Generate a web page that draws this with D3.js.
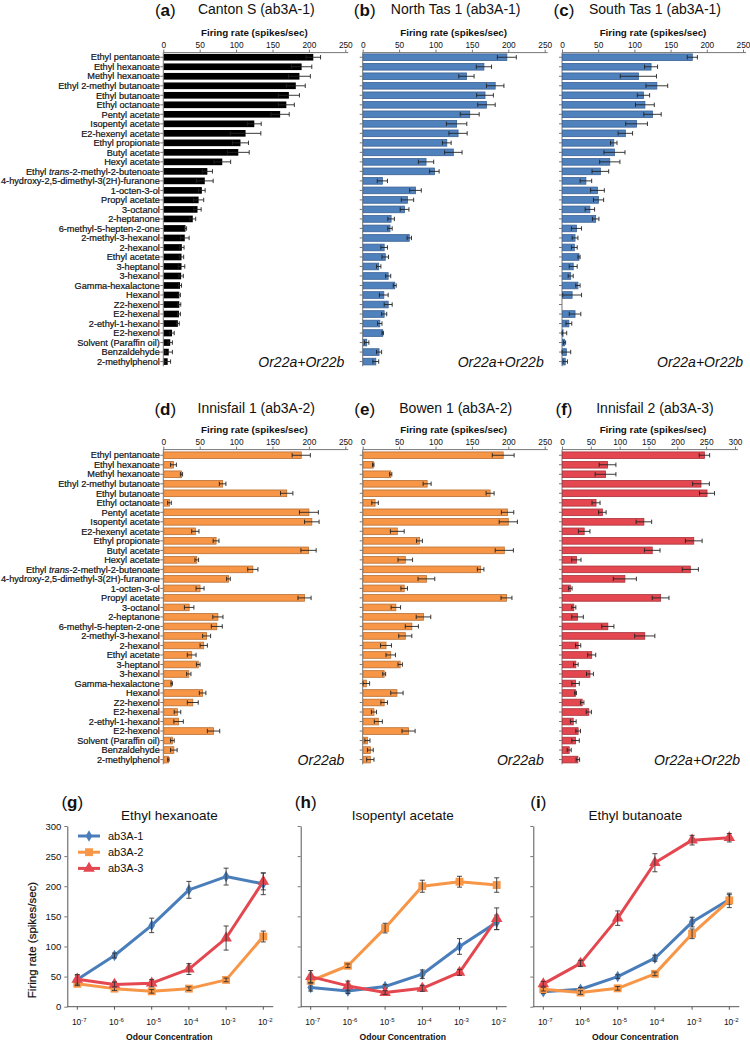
<!DOCTYPE html>
<meta charset="utf-8">
<head>
    <script src="https://cdn.jsdelivr.net/npm/d3@7"></script>
    <style>
        body { margin: 0; background: #fff; }
        text { font-family: "Liberation Sans", Arial, sans-serif; fill: #111; }
        .tick line { stroke: #777; }
        .cat { stroke: #111; stroke-width: 0.2px; }
    </style>
</head>
<body>
<script type="text/javascript">

    var width = 750;
    var height = 1044;

    // odours, in the order used on every bar panel
    var odours = ["Ethyl pentanoate", "Ethyl hexanoate", "Methyl hexanoate", "Ethyl 2-methyl butanoate",
        "Ethyl butanoate", "Ethyl octanoate", "Pentyl acetate", "Isopentyl acetate", "E2-hexenyl acetate",
        "Ethyl propionate", "Butyl acetate", "Hexyl acetate", "Ethyl trans-2-methyl-2-butenoate",
        "4-hydroxy-2,5-dimethyl-3(2H)-furanone", "1-octen-3-ol", "Propyl acetate", "3-octanol", "2-heptanone",
        "6-methyl-5-hepten-2-one", "2-methyl-3-hexanol", "2-hexanol", "Ethyl acetate", "3-heptanol", "3-hexanol",
        "Gamma-hexalactone", "Hexanol", "Z2-hexenol", "E2-hexenal", "2-ethyl-1-hexanol", "E2-hexenol",
        "Solvent (Paraffin oil)", "Benzaldehyde", "2-methylphenol"];

    // firing rates (spikes/sec) and error bars
    var cantonS = [206, 190, 187, 182, 172.5, 169, 160.5, 125, 113, 106, 103, 81, 60.5, 57, 53, 48.5, 47, 40.5, 30.5, 29.5, 25.5, 25, 25, 24.5, 23, 22, 22, 21.5, 20, 12, 9.5, 7.5, 6];
    var cantonSErr = [10, 14, 15, 13, 14.5, 11, 12.5, 9.5, 21, 11, 15, 11.5, 7, 11.5, 4.5, 7, 5, 4, 1.5, 6, 3, 3, 4.5, 3, 2, 1.5, 2, 2, 2, 3, 3, 5, 4];

    var northTas = [198, 166.5, 142.5, 182, 168, 170, 147, 129, 131, 115.5, 124.5, 87, 98.5, 27, 72.5, 61.5, 57.5, 39, 37.5, 64, 29.5, 31, 22, 35, 44, 29, 35, 29.5, 23.5, 27.5, 5.5, 22.5, 18];
    var northTasErr = [13, 10.5, 10.5, 12, 11.5, 12, 13, 14, 12.5, 6, 12, 10.5, 6.5, 7, 8, 8.5, 6, 4.5, 3, 3, 4.5, 4.5, 3, 3.5, 2, 6, 5.5, 3.5, 3, 1, 3, 3.5, 4];

    var southTas = [180, 123, 105.5, 131, 112.5, 114.5, 125, 103, 87.5, 71.5, 72.5, 66, 53, 33, 49, 50.5, 38.5, 46.5, 20, 18, 17, 23.5, 15.5, 12, 22, 14, null, 18, 9.5, 1.5, 3.5, 6, 4.5];
    var southTasErr = [7, 9, 25, 15, 8.5, 13, 12, 15, 10, 4.5, 14.5, 14, 11.5, 8, 9.5, 7, 6.5, 4.5, 7, 4, 4, 1.5, 5.5, 3.5, 3, 13, 0, 8, 4, 5, 1.5, 6, 3];

    var innisfail1 = [189.5, 14, 25, 81.5, 169.5, 8.5, 200, 204, 44, 72.5, 199.5, 46, 123, 89.5, 50.5, 194, 35.5, 75, 73.5, 59.5, 55.5, 39, 48, 35, 11.5, 54, 40.5, 19.5, 21, 69, 12.5, 14.5, 7];
    var innisfail1Err = [12.5, 4, 1.5, 4.5, 8.5, 2.5, 13, 10, 5, 4, 10.5, 2.5, 7, 2.5, 5.5, 9, 6.5, 7, 7.5, 5.5, 5, 6, 2.5, 3, 1, 4.5, 7.5, 4.5, 6.5, 8.5, 2.5, 4.5, 1];

    var bowen1 = [193, 14.5, 38.5, 88.5, 175, 17, 199, 200, 47.5, 78, 194.5, 58.5, 162, 87.5, 57, 197.5, 45.5, 83.5, 67.5, 58.5, 32, 38.5, 51.5, 29.5, 5, 47, 29.5, 15.5, 21.5, 63, 6.5, 10.5, 10.5];
    var bowen1Err = [15, 1, 1.5, 5.5, 5.5, 4.5, 8.5, 12.5, 9.5, 4, 12.5, 10, 4.5, 11.5, 4.5, 7.5, 6.5, 10, 9, 9, 7.5, 6.5, 3, 2, 4.5, 8.5, 4.5, 3.5, 5.5, 9, 3.5, 4, 5];

    var innisfail2 = [247, 79, 75.5, 241, 251.5, 59, 70, 142, 38.5, 228.5, 156.5, 25, 222.5, 109, 14.5, 171, 20.5, 27, 79.5, 143.5, 28, 51.5, 24, 48.5, 23.5, 23.5, 35, 46.5, 19.5, 28, 23.5, 12.5, 27.5];
    var innisfail2Err = [9, 14.5, 18, 14.5, 13, 7, 6.5, 13.5, 10, 14.5, 13.5, 8, 14, 20, 3, 14.5, 3.5, 10, 10.5, 17.5, 4.5, 7, 4, 6, 6.5, 1.5, 3, 4.5, 5, 4, 6.5, 3.5, 3];

    // dose response: exponents of the odour concentration
    var concExp = ["-7", "-6", "-5", "-4", "-3", "-2"];
    var lineNames = ["ab3A-1", "ab3A-2", "ab3A-3"];

    var ehA1 = [45, 85, 135, 194, 216, 204], ehA1Err = [7, 4, 12, 14, 14, 18];
    var ehA2 = [38, 30, 25.5, 30, 44.5, 116.5], ehA2Err = [3, 3, 3, 3, 3, 9];
    var ehA3 = [45.5, 37, 39, 62.5, 114, 208], ehA3Err = [8, 4, 6, 9, 20, 14];

    var iaA1 = [32, 26, 33.5, 54, 100, 140], iaA1Err = [6, 4, 3, 7, 13, 12];
    var iaA2 = [43, 68, 130.5, 200, 207.5, 202], iaA2Err = [4, 3, 8, 10, 9, 12];
    var iaA3 = [50, 34.5, 23.5, 30.5, 57, 146], iaA3Err = [10, 8, 3, 5, 5, 18];

    var ebA1 = [25, 29, 50, 80.5, 140.5, 178], ebA1Err = [3, 3, 3, 5, 8, 8];
    var ebA2 = [29, 23.5, 30.5, 54.5, 121, 176.5], ebA2Err = [3, 3, 3, 3, 8, 12];
    var ebA3 = [38, 72, 147, 239, 276.5, 280.5], ebA3Err = [4, 5, 12, 15, 8, 7];

    var svg = d3.select("body")
        .append("svg")
        .attr("width", width)
        .attr("height", height);

    var rows = [
        {titleY: 14, labelY: 36, tickY: 47.5, axisY: 52.6, top: 52.5},
        {titleY: 413, labelY: 433, tickY: 447.5, axisY: 449.6, top: 450.5}
    ];

    var BLUE = {fill: "#4f81bd", stroke: "#3a6194"};
    var ORANGE = {fill: "#f79646", stroke: "#b86e32"};
    var RED = {fill: "#e4474f", stroke: "#a8323a"};
    var BLACK = {fill: "#000", stroke: "none"};

    var barPanels = [
        {letter: "a", title: "Canton S (ab3A-1)", vals: cantonS, errs: cantonSErr, x0: 163.3, w: 182, max: 250, row: 0, col: BLACK, gene: "Or22a+Or22b", labels: true},
        {letter: "b", title: "North Tas 1 (ab3A-1)", vals: northTas, errs: northTasErr, x0: 362.7, w: 182, max: 250, row: 0, col: BLUE, gene: "Or22a+Or22b"},
        {letter: "c", title: "South Tas 1 (ab3A-1)", vals: southTas, errs: southTasErr, x0: 562, w: 181, max: 250, row: 0, col: BLUE, gene: "Or22a+Or22b"},
        {letter: "d", title: "Innisfail 1 (ab3A-2)", vals: innisfail1, errs: innisfail1Err, x0: 163.3, w: 182, max: 250, row: 1, col: ORANGE, gene: "Or22ab", labels: true},
        {letter: "e", title: "Bowen 1 (ab3A-2)", vals: bowen1, errs: bowen1Err, x0: 362.7, w: 182, max: 250, row: 1, col: ORANGE, gene: "Or22ab"},
        {letter: "f", title: "Innisfail 2 (ab3A-3)", vals: innisfail2, errs: innisfail2Err, x0: 562, w: 173, max: 300, row: 1, col: RED, gene: "Or22a+Or22b"}
    ];

    function panelLetter(g, x, y, letter) {
        var t = g.append("text")
            .attr("x", x).attr("y", y)
            .attr("text-anchor", "middle")
            .attr("font-size", "17px");
        t.append("tspan").text("(");
        t.append("tspan").attr("font-weight", "bold").text(letter);
        t.append("tspan").text(")");
    }

    barPanels.forEach(function (p) {
        var r = rows[p.row];
        var g = svg.append("g");
        var x = d3.scaleLinear().domain([0, p.max]).range([p.x0, p.x0 + p.w]);
        var y = d3.scaleBand()
            .domain(odours)
            .range([r.top, r.top + odours.length * 9.51])
            .paddingInner(0.3)
            .paddingOuter(0.15);
        var mid = p.x0 + 91;

        panelLetter(g, p.x0 + 2, r.titleY + 2, p.letter);
        g.append("text")
            .attr("x", mid + 2).attr("y", r.titleY)
            .attr("text-anchor", "middle")
            .attr("font-size", "14px")
            .text(p.title);
        g.append("text")
            .attr("x", mid).attr("y", r.labelY)
            .attr("text-anchor", "middle")
            .attr("font-size", "9.8px")
            .attr("font-weight", "bold")
            .text("Firing rate (spikes/sec)");

        // top axis
        var ax = g.append("g")
            .attr("transform", "translate(0," + r.axisY + ")")
            .call(d3.axisTop(x).tickValues(d3.range(0, p.max + 1, 50)).tickSize(3).tickSizeOuter(0).tickPadding(2));
        ax.select(".domain").remove();
        ax.selectAll("text").attr("font-size", "8.3px").attr("fill", "#111");
        g.append("line")
            .attr("x1", p.x0).attr("x2", p.x0 + p.w + 3)
            .attr("y1", r.axisY).attr("y2", r.axisY)
            .attr("stroke", "#777").attr("stroke-width", 1);
        // left axis with small ticks between rows
        g.append("line")
            .attr("x1", p.x0).attr("x2", p.x0)
            .attr("y1", r.axisY).attr("y2", r.top + odours.length * 9.51)
            .attr("stroke", "#777").attr("stroke-width", 1);
        g.selectAll(".ytick")
            .data(odours)
            .enter()
            .append("line")
            .attr("x1", p.x0 - 3).attr("x2", p.x0)
            .attr("y1", function (d) { return y(d) + y.bandwidth() / 2; })
            .attr("y2", function (d) { return y(d) + y.bandwidth() / 2; })
            .attr("stroke", "#777");

        var data = odours.map(function (o, i) {
            return {name: o, v: p.vals[i], e: p.errs[i]};
        }).filter(function (d) { return d.v !== null; });

        g.selectAll(".bar")
            .data(data)
            .enter()
            .append("rect")
            .attr("x", p.x0 + 0.5)
            .attr("y", function (d) { return y(d.name); })
            .attr("width", function (d) { return Math.max(0, x(d.v) - p.x0 - 0.5); })
            .attr("height", y.bandwidth())
            .attr("fill", p.col.fill)
            .attr("stroke", p.col.stroke)
            .attr("stroke-width", 0.8);

        // error bars
        var eb = g.selectAll(".err")
            .data(data)
            .enter()
            .append("g")
            .attr("stroke", "#222")
            .attr("stroke-width", 0.9);
        eb.append("line")
            .attr("x1", function (d) { return x(Math.max(0, d.v - d.e)); })
            .attr("x2", function (d) { return x(d.v + d.e); })
            .attr("y1", function (d) { return y(d.name) + y.bandwidth() / 2; })
            .attr("y2", function (d) { return y(d.name) + y.bandwidth() / 2; });
        [-1, 1].forEach(function (s) {
            eb.append("line")
                .attr("x1", function (d) { return x(Math.max(0, d.v + s * d.e)); })
                .attr("x2", function (d) { return x(Math.max(0, d.v + s * d.e)); })
                .attr("y1", function (d) { return y(d.name) + y.bandwidth() / 2 - 2.2; })
                .attr("y2", function (d) { return y(d.name) + y.bandwidth() / 2 + 2.2; });
        });

        if (p.labels) {
            var lab = g.selectAll(".lab")
                .data(odours)
                .enter()
                .append("text")
                .attr("class", "cat")
                .attr("x", p.x0 - 3.5)
                .attr("y", function (d) { return y(d) + y.bandwidth() / 2; })
                .attr("dy", "0.35em")
                .attr("text-anchor", "end")
                .attr("font-size", "9.2px");
            lab.each(function (d) {
                var t = d3.select(this);
                if (d.indexOf("trans") >= 0) {
                    var parts = d.split("trans");
                    t.append("tspan").text(parts[0]);
                    t.append("tspan").attr("font-style", "italic").text("trans");
                    t.append("tspan").text(parts[1]);
                } else {
                    t.text(d);
                }
            });
        }

        var last = odours[odours.length - 1];
        g.append("text")
            .attr("x", p.max === 300 ? p.x0 + 178 : p.x0 + 181)
            .attr("y", y(last) + y.bandwidth() / 2 + 5)
            .attr("text-anchor", "end")
            .attr("font-size", "14px")
            .attr("font-style", "italic")
            .text(p.gene);
    });

    // dose-response panels
    var lineColors = ["#4a7ebb", "#f79646", "#e4474f"];
    var lineSymbols = [d3.symbolDiamond, d3.symbolSquare, d3.symbolTriangle];
    var symbolSizes = [38, 62, 58];

    var linePanels = [
        {letter: "g", title: "Ethyl hexanoate", left: 67.3, series: [[ehA1, ehA1Err], [ehA2, ehA2Err], [ehA3, ehA3Err]], yLabels: true, legend: true},
        {letter: "h", title: "Isopentyl acetate", left: 300.7, series: [[iaA1, iaA1Err], [iaA2, iaA2Err], [iaA3, iaA3Err]]},
        {letter: "i", title: "Ethyl butanoate", left: 533.3, series: [[ebA1, ebA1Err], [ebA2, ebA2Err], [ebA3, ebA3Err]]}
    ];

    var lineTop = 826, lineBottom = 1006.7;

    linePanels.forEach(function (p) {
        var g = svg.append("g");
        var x = d3.scalePoint().domain(concExp).range([p.left + 10, p.left + 196]);
        var y = d3.scaleLinear().domain([0, 300]).range([lineBottom, lineTop]);
        var mid = p.left + 102;

        panelLetter(g, p.left + 5, 808, p.letter);
        g.append("text")
            .attr("x", mid).attr("y", 820)
            .attr("text-anchor", "middle")
            .attr("font-size", "13.5px")
            .text(p.title);

        var ay = g.append("g")
            .attr("transform", "translate(" + p.left + ",0)")
            .call(d3.axisLeft(y).tickValues(d3.range(0, 301, 50)).tickSize(3).tickSizeOuter(0).tickPadding(3)
                .tickFormat(p.yLabels ? d3.format("d") : ""));
        ay.select(".domain").attr("stroke", "#555");
        ay.selectAll("text").attr("font-size", "9.5px").attr("fill", "#111");

        g.append("line")
            .attr("x1", p.left).attr("x2", p.left + 206)
            .attr("y1", lineBottom).attr("y2", lineBottom)
            .attr("stroke", "#555");
        g.selectAll(".xt")
            .data(concExp)
            .enter()
            .append("line")
            .attr("x1", function (d) { return x(d); })
            .attr("x2", function (d) { return x(d); })
            .attr("y1", lineBottom).attr("y2", lineBottom + 3)
            .attr("stroke", "#555");
        var xl = g.selectAll(".xl")
            .data(concExp)
            .enter()
            .append("text")
            .attr("x", function (d) { return x(d) + 2; })
            .attr("y", 1025)
            .attr("text-anchor", "middle")
            .attr("font-size", "8.5px");
        xl.append("tspan").text("10");
        xl.append("tspan").attr("dy", "-3.5").attr("font-size", "6px").text(function (d) { return d; });

        g.append("text")
            .attr("x", mid).attr("y", 1040)
            .attr("text-anchor", "middle")
            .attr("font-size", "8.6px")
            .attr("font-weight", "bold")
            .text("Odour Concentration");

        if (p.yLabels) {
            g.append("text")
                .attr("transform", "translate(36," + 940 + ") rotate(-90)")
                .attr("text-anchor", "middle")
                .attr("font-size", "11.5px")
                .attr("stroke", "#111")
                .attr("stroke-width", 0.2)
                .text("Firing rate (spikes/sec)");
        }

        var line = d3.line()
            .x(function (d, i) { return x(concExp[i]); })
            .y(function (d) { return y(d); });

        p.series.forEach(function (s, k) {
            g.append("path")
                .datum(s[0])
                .attr("d", line)
                .attr("fill", "none")
                .attr("stroke", lineColors[k])
                .attr("stroke-width", 3)
                .attr("stroke-linejoin", "round");
        });
        p.series.forEach(function (s, k) {
            var pts = s[0].map(function (v, i) { return {c: concExp[i], v: v, e: s[1][i]}; });
            g.selectAll(".m" + k)
                .data(pts)
                .enter()
                .append("path")
                .attr("transform", function (d) { return "translate(" + x(d.c) + "," + y(d.v) + ")"; })
                .attr("d", d3.symbol().type(lineSymbols[k]).size(symbolSizes[k]))
                .attr("fill", lineColors[k]);
            var eb = g.selectAll(".e" + k)
                .data(pts)
                .enter()
                .append("g")
                .attr("stroke", "#333")
                .attr("stroke-width", 0.9);
            eb.append("line")
                .attr("x1", function (d) { return x(d.c); })
                .attr("x2", function (d) { return x(d.c); })
                .attr("y1", function (d) { return y(d.v - d.e); })
                .attr("y2", function (d) { return y(d.v + d.e); });
            [-1, 1].forEach(function (sg) {
                eb.append("line")
                    .attr("x1", function (d) { return x(d.c) - 2.5; })
                    .attr("x2", function (d) { return x(d.c) + 2.5; })
                    .attr("y1", function (d) { return y(d.v + sg * d.e); })
                    .attr("y2", function (d) { return y(d.v + sg * d.e); });
            });
        });

        if (p.legend) {
            var lg = g.selectAll(".lg")
                .data(lineNames)
                .enter()
                .append("g")
                .attr("transform", function (d, i) {
                    return "translate(78," + (836 + i * 16.2) + ")";
                });
            lg.append("line")
                .attr("x1", 0).attr("x2", 22)
                .attr("stroke", function (d, i) { return lineColors[i]; })
                .attr("stroke-width", 3);
            lg.append("path")
                .attr("transform", "translate(11,0)")
                .attr("d", function (d, i) { return d3.symbol().type(lineSymbols[i]).size(symbolSizes[i])(); })
                .attr("fill", function (d, i) { return lineColors[i]; });
            lg.append("text")
                .attr("x", 30).attr("dy", "0.35em")
                .attr("font-size", "11px")
                .text(function (d) { return d; });
        }
    });

</script>
</body>
</html>
